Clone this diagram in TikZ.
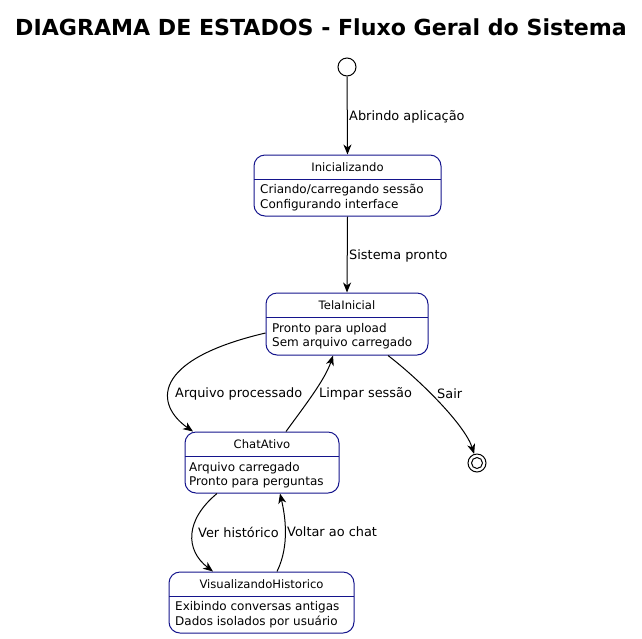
\documentclass[tikz,border=0pt]{standalone}
\usepackage{fontspec}
\setmainfont{DejaVu Sans}
\usetikzlibrary{arrows.meta}
\definecolor{stborder}{RGB}{20,20,140}
\begin{document}
\begin{tikzpicture}[x=1pt,y=-1pt,
  stbox/.style={draw=stborder,line width=1pt,rounded corners=11pt,inner sep=0pt},
  stname/.style={inner sep=0pt,font=\fontsize{11.6}{13}\selectfont},
  stbody/.style={inner sep=0pt,anchor=west,align=left,font=\fontsize{12}{14.5}\selectfont},
  lbl/.style={inner sep=0pt,anchor=west,font=\fontsize{12.9}{14}\selectfont},
  tr/.style={draw,line width=1pt,-{Stealth[length=10pt,width=8pt,inset=3pt]}}
]
\useasboundingbox (0,0) rectangle (642,638);
\node[inner sep=0pt,font=\bfseries\fontsize{22.1}{24}\selectfont] (title) at (321,27) {DIAGRAMA DE ESTADOS - Fluxo Geral do Sistema};

% start / end
\node[draw,circle,line width=1pt,minimum size=18pt,inner sep=0pt] (start) at (347,67) {};
\node[draw,circle,line width=1pt,minimum size=18pt,inner sep=0pt] (end) at (477,463) {};
\node[draw,circle,line width=1pt,minimum size=11pt,inner sep=0pt] (endin) at (477,463) {};

% Inicializando: L254 T155 R441 B216 D179
\node[stbox,minimum width=187pt,minimum height=61pt] (ini) at (347.5,185.5) {};
\draw[stborder,line width=1pt] (254,179) -- (441,179);
\node[stname] (iniN) at (347.5,167) {Inicializando};
\node[stbody] (iniB) at (260,197.5) {Criando/carregando sessão\\Configurando interface};

% TelaInicial: L266 T293 R428 B355 D317
\node[stbox,minimum width=162pt,minimum height=62pt] (tela) at (347,324) {};
\draw[stborder,line width=1pt] (266,317) -- (428,317);
\node[stname] (telaN) at (347,305) {TelaInicial};
\node[stbody] (telaB) at (272,336) {Pronto para upload\\Sem arquivo carregado};

% ChatAtivo: L185 T432 R339 B493 D457
\node[stbox,minimum width=154pt,minimum height=61pt] (chat) at (262,462.5) {};
\draw[stborder,line width=1pt] (185,456) -- (339,456);
\node[stname] (chatN) at (262,444) {ChatAtivo};
\node[stbody] (chatB) at (189,475) {Arquivo carregado\\Pronto para perguntas};

% VisualizandoHistorico: L169 T572 R354 B633 D596
\node[stbox,minimum width=185pt,minimum height=61pt] (vis) at (261.5,602.5) {};
\draw[stborder,line width=1pt] (169,596) -- (354,596);
\node[stname] (visN) at (261.5,584) {VisualizandoHistorico};
\node[stbody] (visB) at (175,614.5) {Exibindo conversas antigas\\Dados isolados por usuário};

% transitions
\draw[tr] (start) -- (ini.north);
\draw[tr] (ini.south) -- (tela.north);
\draw[tr] ([yshift=-9pt]tela.west) .. controls (150,360) and (155,405) .. ([xshift=-69pt]chat.north);
\draw[tr] ([xshift=24pt]chat.north) .. controls (303,408) and (325,380) .. ([xshift=-14pt]tela.south);
\draw[tr] ([xshift=41pt]tela.south) .. controls (420,380) and (465,425) .. (end);
\draw[tr] ([xshift=-45pt]chat.south) .. controls (185,520) and (185,550) .. ([xshift=-48.5pt]vis.north);
\draw[tr] ([xshift=15.5pt]vis.north) .. controls (290,545) and (285,515) .. ([xshift=18pt]chat.south);

% labels
\node[lbl] (l1) at (349,117) {Abrindo aplicação};
\node[lbl] (l2) at (349,256) {Sistema pronto};
\node[lbl] (l3) at (175,394) {Arquivo processado};
\node[lbl] (l4) at (319,394) {Limpar sessão};
\node[lbl] (l5) at (437,394) {Sair};
\node[lbl] (l6) at (198,532) {Ver histórico};
\node[lbl] (l7) at (287,532) {Voltar ao chat};
\end{tikzpicture}
\end{document}
